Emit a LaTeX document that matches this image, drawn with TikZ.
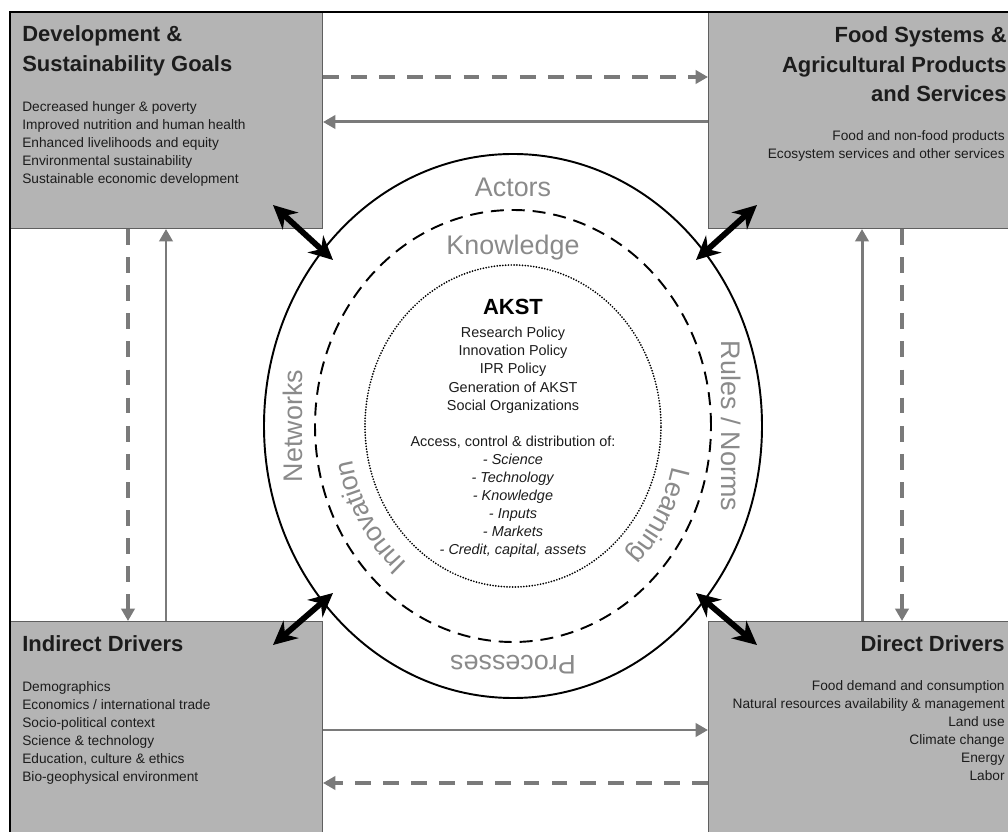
\documentclass[tikz,border=0pt]{standalone}
\usepackage{fontspec}
\setmainfont{Liberation Sans}
\usepackage{xcolor}
\usepackage{tikz}
\usetikzlibrary{calc,arrows.meta,positioning,decorations.text}
\definecolor{panelGray}{RGB}{180,180,180}
\definecolor{panelEdge}{RGB}{95,95,95}
\definecolor{flowGray}{RGB}{122,122,122}
\definecolor{ringGray}{RGB}{138,138,138}
\definecolor{inkGray}{RGB}{28,28,28}
\newcommand{\headFont}{\bfseries\fontsize{12.5}{17}\selectfont}
\newcommand{\listFont}{\fontsize{7.8}{10.3}\selectfont}
\newcommand{\ringFont}{\fontsize{15.3}{15.3}\selectfont}

\begin{document}
\begin{tikzpicture}[x=0.02cm, y=0.02cm,
  panel/.style={draw=panelEdge, fill=panelGray, line width=0.6pt, anchor=north west, inner sep=0pt},
  head/.style={text=inkGray, inner sep=0pt, font=\headFont},
  items/.style={text=inkGray, inner sep=0pt, font=\listFont},
  ringLabel/.style={text=ringGray, inner sep=0pt, font=\ringFont},
  flow/.style={flowGray, line width=1.7pt, -{Triangle[length=7pt, width=7.5pt]}},
  flowDash/.style={flow, line width=2.2pt, dash pattern=on 9pt off 7pt},
  bothWays/.style={line width=3.3pt, {Stealth[length=13.5pt, width=13pt]}-{Stealth[length=13.5pt, width=13pt]}}]

\useasboundingbox (0,0) rectangle (1008,832);

% corner panels
\node[panel, minimum width=6.24cm, minimum height=4.32cm] (dev) at (10,820) {};
\node[panel, minimum width=6.16cm, minimum height=4.32cm] (food) at (708,820) {};
\node[panel, minimum width=6.24cm, minimum height=4.40cm] (ind) at (10,211) {};
\node[panel, minimum width=6.16cm, minimum height=4.40cm] (dir) at (708,211) {};
\draw[line width=0.6pt] (10,-10) -- (10,820) -- (1020,820);

\node[head, align=left, anchor=north west] (devHead) at (22,807) {Development \&\\Sustainability Goals};
\node[items, align=left, anchor=north west] (devList) at (22,731) {Decreased hunger \& poverty\\Improved nutrition and human health\\Enhanced livelihoods and equity\\Environmental sustainability\\Sustainable economic development};

\node[head, align=right, anchor=north east] (foodHead) at (1007,806) {Food Systems \&\\Agricultural Products\\and Services};
\node[items, align=right, anchor=north east] (foodList) at (1005,702) {Food and non-food products\\Ecosystem services and other services};

\node[head, anchor=north west] (indHead) at (22,197) {Indirect Drivers};
\node[items, align=left, anchor=north west] (indList) at (22,151) {Demographics\\Economics / international trade\\Socio-political context\\Science \& technology\\Education, culture \& ethics\\Bio-geophysical environment};

\node[head, anchor=north east] (dirHead) at (1005,197) {Direct Drivers};
\node[items, align=right, anchor=north east] (dirList) at (1005,152) {Food demand and consumption\\Natural resources availability \& management\\Land use\\Climate change\\Energy\\Labor};

% flows between panels
\draw[flowDash] (dev.east |- 0,755) -- (food.west |- 0,755);
\draw[flow] (food.west |- 0,710) -- (dev.east |- 0,710);
\draw[flow] (ind.east |- 0,102) -- (dir.west |- 0,102);
\draw[flowDash] (dir.west |- 0,49) -- (ind.east |- 0,49);
\draw[flowDash] (dev.south -| 128,0) -- (ind.north -| 128,0);
\draw[flow] (ind.north -| 166,0) -- (dev.south -| 166,0);
\draw[flow] (dir.north -| 862,0) -- (food.south -| 862,0);
\draw[flowDash] (food.south -| 902,0) -- (dir.north -| 902,0);

% rings
\coordinate (C) at (513,406);
\draw[line width=1.1pt] (C) ellipse [x radius=249, y radius=272];
\draw[line width=1.1pt, dash pattern=on 7.4pt off 4.5pt] (C) ellipse [x radius=198, y radius=216];
\draw[line width=1.1pt, line cap=round, dash pattern=on 0pt off 1.6pt] (C) ellipse [x radius=148, y radius=161];

\node[ringLabel] (actors) at (513,645) {Actors};
\node[ringLabel] (knowledge) at (513,584) {Knowledge};
\node[ringLabel, rotate=90] (networks) at (293,406) {Networks};
\node[ringLabel, rotate=-90] (rules) at (731,406) {Rules / Norms};
\node[ringLabel, rotate=180] (processes) at (513,167) {Processes};
\path[decorate, decoration={text along path, text align=center, text color=ringGray, raise=-5pt, text={|\ringFont|Innovation}}]
  ($(C)+(251:172 and 189)$) arc[start angle=251, end angle=171, x radius=172, y radius=189];
\path[decorate, decoration={text along path, text align=center, text color=ringGray, raise=-5pt, text={|\ringFont|Learning}}]
  ($(C)+(10:172 and 189)$) arc[start angle=10, end angle=-70, x radius=172, y radius=189];

\node[font=\bfseries\fontsize{12.5}{15}\selectfont, inner sep=0pt, anchor=north] (akst) at (513,533) {AKST};
\node[items, font=\fontsize{8.2}{10.3}\selectfont, align=center, anchor=north] (akstList) at (513,505) {Research Policy\\Innovation Policy\\IPR Policy\\Generation of AKST\\Social Organizations\\[10.3pt]
  Access, control \& distribution of:\\\textit{- Science}\\\textit{- Technology}\\\textit{- Knowledge}\\\textit{- Inputs}\\\textit{- Markets}\\\textit{- Credit, capital, assets}};

% links between panels and rings
\coordinate (devTip) at ($(dev.south east)+(-50,24)$);
\coordinate (foodTip) at ($(food.south west)+(49,24)$);
\coordinate (indTip) at ($(ind.north east)+(-50,-24)$);
\coordinate (dirTip) at ($(dir.north west)+(49,-24)$);
\coordinate (devRing) at (333,572);
\coordinate (foodRing) at (696,572);
\coordinate (indRing) at (333,239);
\coordinate (dirRing) at (696,239);
\foreach \a/\b in {devTip/devRing, foodTip/foodRing, indTip/indRing, dirTip/dirRing}
{
    \draw[bothWays] (\a) -- (\b);
}
\end{tikzpicture}
\end{document}
